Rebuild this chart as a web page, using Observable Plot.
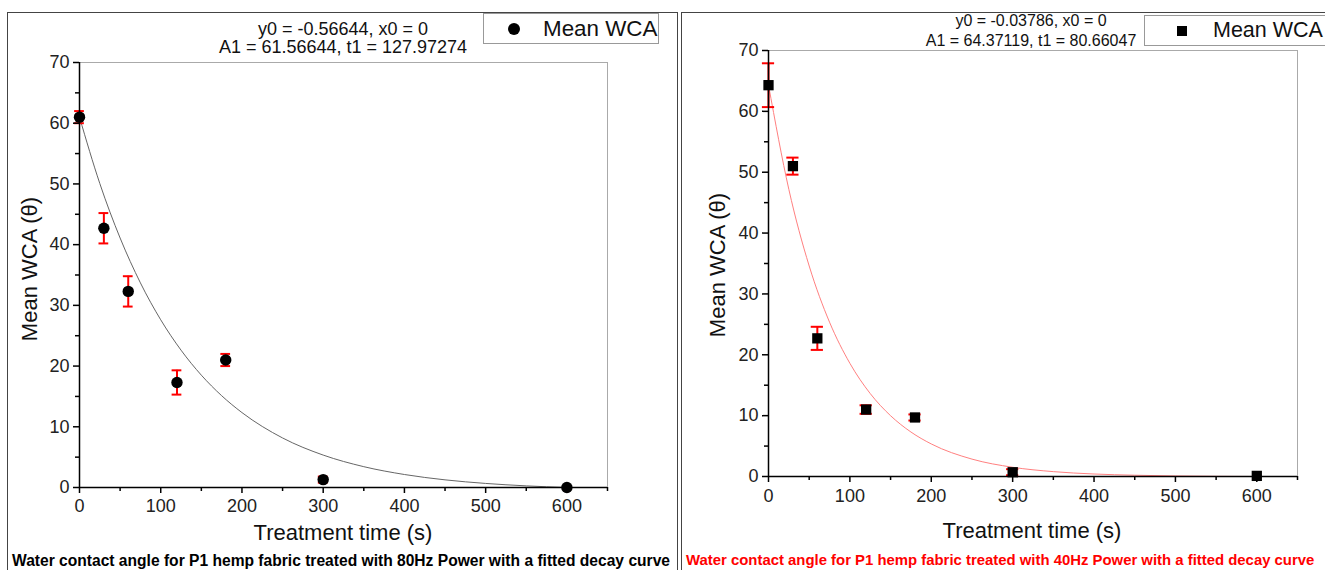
<!DOCTYPE html>
<html>
<head>
<meta charset="utf-8">
<script src="https://cdn.jsdelivr.net/npm/d3@7"></script>
<script src="https://cdn.jsdelivr.net/npm/@observablehq/plot@0.6"></script>
<style>
  html, body { margin: 0; padding: 0; background: #fff; }
  #page { position: relative; width: 1325px; height: 570px; overflow: hidden; font-family: "Liberation Sans", Arial, sans-serif; color: #111; }
  .abs { position: absolute; }
  .panel { position: absolute; border: 1px solid #444; box-sizing: border-box; pointer-events: none; }
  .eq { position: absolute; text-align: center; white-space: nowrap; }
  .legend { position: absolute; border: 1px solid #999; background: #fff; box-sizing: border-box; white-space: nowrap; }
  .title { position: absolute; font-size: 22px; white-space: nowrap; }
  .caption { position: absolute; font-weight: bold; white-space: nowrap; }
</style>
</head>
<body>
<div id="page"></div>
<script>
// ---- data ----
const times = [0, 30, 60, 120, 180, 300, 600];
const wca80 = [61.0, 42.7, 32.3, 17.3, 21.0, 1.3, 0.0];
const err80 = [1.0, 2.5, 2.5, 2.0, 1.0, 0.5, 0.0];
const wca40 = [64.3, 51.0, 22.7, 11.0, 9.7, 0.7, 0.1];
const err40 = [3.6, 1.4, 1.9, 0.7, 0.5, 0.5, 0.0];

// fitted decay curves
const fitTimes = [0, 25, 50, 75, 100, 125, 150, 175, 200, 250, 300, 350, 400, 450, 500, 550, 600];
const fit80 = [61.0, 50.07, 41.09, 33.70, 27.62, 22.62, 18.50, 15.12, 12.34, 8.16, 5.34, 3.43, 2.14, 1.26, 0.67, 0.27, 0.0];
const fit40 = [64.33, 47.18, 34.59, 25.36, 18.60, 13.63, 9.99, 7.31, 5.35, 2.86, 1.52, 0.80, 0.41, 0.21, 0.09, 0.03, 0.0];

const xTicks = [0, 100, 200, 300, 400, 500, 600];
const xMinor = [50, 150, 250, 350, 450, 550, 650];
const yTicks = [0, 10, 20, 30, 40, 50, 60, 70];
const yMinor = [5, 15, 25, 35, 45, 55, 65];

const eq80 = ["y0 = -0.56644, x0 = 0", "A1 = 61.56644, t1 = 127.97274"];
const eq40 = ["y0 = -0.03786, x0 = 0", "A1 = 64.37119, t1 = 80.66047"];
const legendLabel = "Mean WCA";
const xTitle = "Treatment time (s)";
const yTitle = "Mean WCA (θ)";
const caption80 = "Water contact angle for P1 hemp fabric treated with 80Hz Power with a fitted decay curve";
const caption40 = "Water contact angle for P1 hemp fabric treated with 40Hz Power with a fitted decay curve";

const page = document.getElementById("page");

function rows(v, e) { return times.map((t, i) => ({t, v: v[i], e: e[i]})); }
function fitRows(f) { return fitTimes.map((t, i) => ({t, v: f[i]})); }

function chart(o) {
  const data = rows(o.v, o.e);
  const bars = data.filter(d => d.e > 0);
  const c = o.cap;
  return Plot.plot({
    width: o.width, height: o.height,
    marginLeft: o.ml, marginRight: o.mr, marginTop: o.mt, marginBottom: o.mb,
    style: {fontFamily: "Liberation Sans, Arial, sans-serif", fontSize: "18px", background: "transparent", color: "#222", overflow: "visible"},
    x: {domain: [0, 650]},
    y: {domain: [0, 70]},
    marks: [
      Plot.ruleY([70], {stroke: "#aaa", strokeWidth: 1}),
      Plot.ruleX([650], {stroke: "#aaa", strokeWidth: 1}),
      Plot.line(fitRows(o.fit), {x: "t", y: "v", stroke: o.fitColor, strokeWidth: 1, curve: "monotone-x"}),
      Plot.ruleX(bars, {x: "t", y1: d => d.v - d.e, y2: d => d.v + d.e, stroke: "red", strokeWidth: 2}),
      Plot.ruleY(bars, {y: d => d.v + d.e, x1: d => d.t - c, x2: d => d.t + c, stroke: "red", strokeWidth: 2}),
      Plot.ruleY(bars, {y: d => d.v - d.e, x1: d => d.t - c, x2: d => d.t + c, stroke: "red", strokeWidth: 2}),
      Plot.dot(data, {x: "t", y: "v", r: o.r, fill: "black", stroke: "none", symbol: o.symbol}),
      Plot.axisX({ticks: xTicks, tickSize: 6, tickPadding: o.xpad, stroke: "black", strokeWidth: 1.5, label: null, tickFormat: d => d}),
      Plot.axisX({ticks: xMinor, tickSize: 4, stroke: "black", strokeWidth: 1.5, label: null, tickFormat: () => ""}),
      Plot.axisY({ticks: yTicks, tickSize: 6, tickPadding: 4, stroke: "black", strokeWidth: 1.5, label: null, tickFormat: d => d}),
      Plot.axisY({ticks: yMinor, tickSize: 4, stroke: "black", strokeWidth: 1.5, label: null, tickFormat: () => ""}),
      Plot.ruleY([0], {stroke: "black", strokeWidth: 1.5}),
      Plot.ruleX([0], {stroke: "black", strokeWidth: 1.5})
    ]
  });
}

function place(el, left, top) {
  el.style.position = "absolute";
  el.style.left = left + "px";
  el.style.top = top + "px";
  page.appendChild(el);
  return el;
}
function div(cls, html, css) {
  const d = document.createElement("div");
  d.className = cls;
  d.innerHTML = html;
  Object.assign(d.style, css);
  page.appendChild(d);
  return d;
}

// left chart (80Hz)
place(chart({v: wca80, e: err80, fit: fit80, fitColor: "#666", symbol: "circle", r: 5.7, cap: 6,
  width: 680, height: 550, ml: 79, mr: 73, mt: 62, mb: 63, xpad: 6}), 0, 0);
// right chart (40Hz)
place(chart({v: wca40, e: err40, fit: fit40, fitColor: "#ff8080", symbol: "square", r: 5.8, cap: 7.5,
  width: 645, height: 550, ml: 88, mr: 28, mt: 50, mb: 74, xpad: 7}), 680, 0);

// panel borders
div("panel", "", {left: "7px", top: "12px", width: "671px", height: "600px"});
div("panel", "", {left: "681px", top: "12px", width: "700px", height: "600px"});

// equations
div("eq", eq80.join("<br>"), {left: "193px", width: "300px", top: "20px", fontSize: "18px", lineHeight: "18px"});
div("eq", eq40.join("<br>"), {left: "881px", width: "300px", top: "11px", fontSize: "16px", lineHeight: "20px"});

// legends
div("legend", `<div class="abs" style="left:24px;top:9px;width:12px;height:12px;border-radius:50%;background:#000"></div><div class="abs" style="left:59px;top:2px">${legendLabel}</div>`,
  {left: "483px", top: "13px", width: "176px", height: "31px", fontSize: "22.4px"});
div("legend", `<div class="abs" style="left:32px;top:10px;width:10px;height:10px;background:#000"></div><div class="abs" style="left:68px;top:2px">${legendLabel}</div>`,
  {left: "1144px", top: "15px", width: "200px", height: "31px", fontSize: "21.5px"});

// axis titles
div("title", xTitle, {left: "343px", top: "520px", transform: "translateX(-50%)"});
div("title", xTitle, {left: "1032px", top: "518px", transform: "translateX(-50%)"});
div("title", yTitle, {left: "30px", top: "269px", transform: "translate(-50%,-50%) rotate(-90deg)"});
div("title", yTitle, {left: "718px", top: "265px", transform: "translate(-50%,-50%) rotate(-90deg)"});

// captions
div("caption", caption80, {left: "12px", top: "552px", color: "#000", fontSize: "15.6px"});
div("caption", caption40, {left: "686px", top: "552px", color: "red", fontSize: "14.9px"});
</script>
</body>
</html>
